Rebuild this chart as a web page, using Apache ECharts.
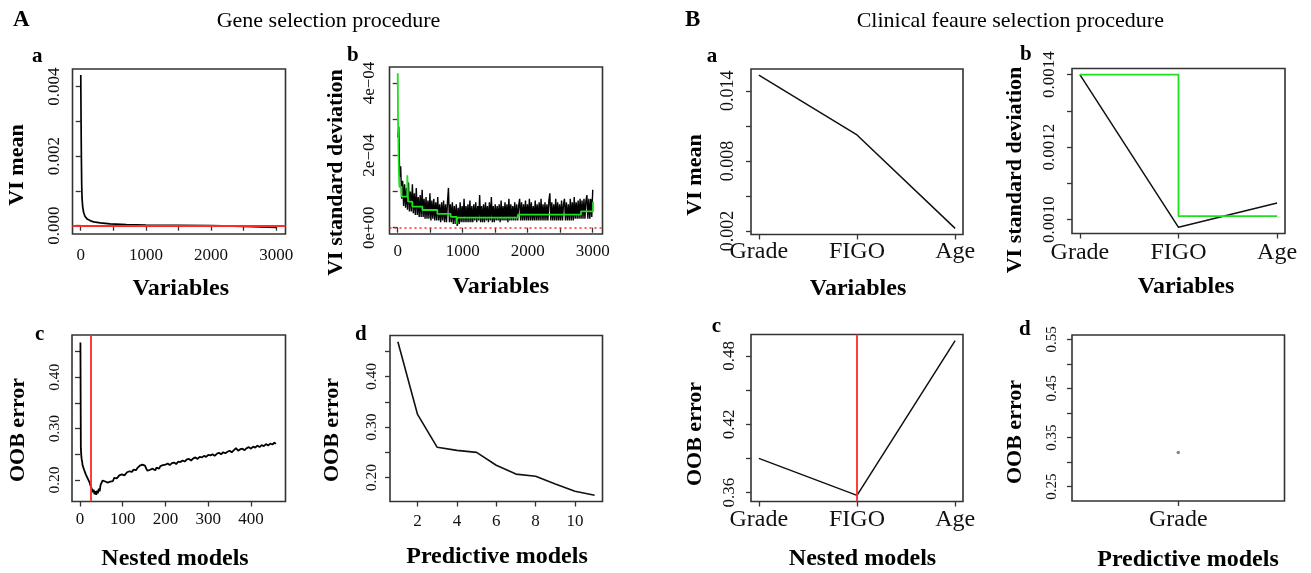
<!DOCTYPE html>
<html>
<head>
<meta charset="utf-8">
<script src="https://cdn.jsdelivr.net/npm/echarts@6/dist/echarts.min.js"></script>
<style>
html,body{margin:0;padding:0;background:#fff;}
#chart{width:1311px;height:573px;}
</style>
</head>
<body>
<div id="chart"></div>
<script>
// ---------------- DATA ----------------
// A-a : VI mean of genes (ranked variables)
const geneVar_a = [1, 3, 6, 10, 15, 20, 30, 45, 65, 100, 150, 200, 300, 450, 700, 1000, 1500, 2000, 2500, 3000];
const geneVIMean = [0.00434, 0.0037, 0.0029, 0.0020, 0.0012, 0.0008, 0.00055, 0.00038, 0.00027, 0.00019, 0.00014, 0.00011, 0.00008, 0.00005, 0.00003, 0.00002, 0.00001, 0, -0.00002, -0.00005];
const geneVIMeanThreshold = 0;

// A-b : VI standard deviation, sampled every 15th ranked variable (values in units of 1e-5)
const geneSdStart = 1, geneSdStep = 15;
const geneVISd_e5 = [
 25, 28, 14, 17, 8, 13, 6, 12, 5.5, 11,
 5, 12.5, 4.5, 10, 4.5, 12, 4, 9.5, 3.5, 11,
 3.5, 8.5, 3, 9, 3, 10.5, 3, 8, 2.5, 8.5,
 2.5, 7.5, 2.5, 9.5, 2, 7.5, 2.5, 8, 2, 7,
 2, 8.5, 2, 6.5, 1.5, 7, 2, 7.5, 1.5, 6.5,
 1.5, 7, 11, 1.5, 6.5, 1.5, 7, 1, 6, 1,
 6.5, 0.5, 5.5, 1, 7, 1.5, 6, 1.5, 8, 1.5,
 6, 1.5, 6.5, 1.5, 7.5, 1.5, 6, 1.5, 6.5, 2,
 7, 1.5, 6, 2, 9, 1.5, 6, 1.5, 6.5, 1.5,
 7, 2, 6, 1.5, 7, 2, 8.5, 1.5, 6, 1.5,
 6.5, 2, 6, 2, 6.5, 1.5, 7.5, 2, 6, 2,
 7, 2, 6.5, 1.5, 8, 2, 6.5, 2, 6, 2,
 7, 2, 6.5, 2, 6, 8, 2, 7, 2, 6.5,
 2, 7.5, 2, 6.5, 2, 8, 2, 7, 2, 6,
 2, 7.5, 2, 6.5, 2, 7, 2, 8, 2, 6.5,
 2, 7, 2, 6.5, 2, 7.5, 9.5, 2, 7, 2,
 6.5, 2, 8, 2, 7, 2, 6.5, 2, 7.5, 2,
 6.5, 8, 2, 7, 2, 6.5, 2, 8, 2, 7,
 2, 8.5, 2.5, 7, 2.5, 7.5, 2.5, 8, 2.5, 7.5,
 2.5, 8, 2.5, 7.5, 9, 2.5, 8, 2.5, 8, 3,
 10.5
];
// green step (CART fit of sd), change points; values in 1e-5
const geneSdStepX = [1, 5, 10, 14, 19, 26, 60, 148, 160, 225, 380, 610, 815, 905, 915, 1850, 2820, 3005];
const geneSdStepY_e5 = [42.7, 30, 24.3, 19.6, 15, 11.3, 8.6, 14.5, 7.2, 5.8, 4.9, 3.8, 3.0, 1.0, 2.8, 3.6, 4.5, 7.2];
const geneSdThreshold = 0.9e-5;

// A-c : OOB error of nested models
const nestedModelsA = [1,2,3,4,5,6,7,8,9,10,12,14,16,18,20,22,24,26,28,30,32,34,36,38,40,42,44,46,48,
 50,53,56,59,62,65,68,71,74,77,80,83,86,89,92,95,98,101,104,107,110,113,116,119,122,125,128,131,134,137,140,
 143,146,149,152,155,158,161,164,167,170,173,176,179,182,185,188,191,194,197,200,
 205,210,215,220,225,230,235,240,245,250,255,260,265,270,275,280,285,290,295,300,
 305,310,315,320,325,330,335,340,345,350,355,360,365,370,375,380,385,390,395,400,
 405,410,415,420,425,430,435,440,445,450,455,458];
const oobNestedA = [0.468,0.262,0.248,0.240,0.236,0.229,0.231,0.224,0.222,0.219,0.221,0.210,0.207,0.203,0.200,0.196,0.191,0.186,0.182,0.176,
 0.181,0.172,0.178,0.171,0.179,0.174,0.183,0.178,0.190,
 0.194,0.199,0.196,0.197,0.199,0.195,0.192,0.197,0.200,0.198,0.204,0.206,0.203,0.205,0.209,0.208,0.211,0.212,0.209,0.212,0.215,
 0.213,0.217,0.218,0.216,0.220,0.222,0.219,0.223,0.225,0.228,0.226,0.230,0.229,0.228,0.222,0.218,0.216,0.220,0.218,0.222,
 0.221,0.219,0.224,0.225,0.222,0.227,0.226,0.229,0.228,0.230,
 0.232,0.229,0.233,0.234,0.231,0.236,0.235,0.238,0.236,0.240,0.241,0.238,0.242,0.244,0.241,0.245,0.244,0.247,0.245,0.249,
 0.248,0.250,0.247,0.251,0.253,0.250,0.254,0.252,0.255,0.257,0.254,0.258,0.262,0.257,0.260,0.261,0.258,0.262,0.264,0.261,
 0.265,0.263,0.267,0.264,0.268,0.266,0.270,0.267,0.271,0.269,0.273,0.270];
const nestedSelectedA = 25;

// A-d : OOB error of predictive models
const predictiveModelsA = [1,2,3,4,5,6,7,8,9,10,11];
const oobPredictiveA = [0.469,0.325,0.260,0.254,0.250,0.2245,0.207,0.2026,0.1875,0.173,0.165];

// B : clinical features
const clinicalVars = ['Grade','FIGO','Age'];
const clinicalVIMean = [0.01534, 0.01022, 0.00223];
const clinicalVISd = [0.0014, 0.000979, 0.001046];
const clinicalSdStep = [0.0014, 0.00101, 0.00101];
const clinicalSdThreshold = 0.00101;
const clinicalOobNested = [0.3901, 0.3577, 0.4933];
const clinicalNestedSelected = 2;
const clinicalPredVars = ['Grade'];
const clinicalOobPredictive = [0.3195];

// tick marks / labels
const geneVarTicks = [0,500,1000,1500,2000,2500,3000];
const geneVarLabels = [0,1000,2000,3000];
const aaYTicks = [0,0.001,0.002,0.003,0.004];
const aaYLabels = [0,0.002,0.004];
const abYTicks = [0,0.0001,0.0002,0.0003,0.0004];
const abYLabels = [0,0.0002,0.0004];
const acXTicks = [0,100,200,300,400];
const oobYTicksA = [0.20,0.25,0.30,0.35,0.40,0.45];
const oobYLabelsA = [0.20,0.30,0.40];
const adXTicks = [2,4,6,8,10];
const clinXTicks = [1,2,3];
const baYTicks = [0.002,0.005,0.008,0.011,0.014];
const baYLabels = [0.002,0.008,0.014];
const bbYTicks = [0.0010,0.0011,0.0012,0.0013,0.0014];
const bbYLabels = [0.0010,0.0012,0.0014];
const bcYTicks = [0.36,0.39,0.42,0.45,0.48];
const bcYLabels = [0.36,0.42,0.48];
const bdYTicks = [0.25,0.30,0.35,0.40,0.45,0.50,0.55];
const bdYLabels = [0.25,0.35,0.45,0.55];

// ---------------- CHART ----------------
const FONT = '"Liberation Serif", "DejaVu Serif", serif';
const BOX = '#333';

const grids = [
  {left:72.5, top:69, width:213, height:165},    // A-a
  {left:389.5, top:67, width:213, height:167},   // A-b
  {left:72, top:335, width:213.5, height:166.5}, // A-c
  {left:390, top:335.5, width:212.5, height:166},// A-d
  {left:751, top:69, width:212, height:165.5},   // B-a
  {left:1072, top:68.5, width:213, height:165},  // B-b
  {left:751, top:334.5, width:212, height:167},  // B-c
  {left:1072, top:335, width:212.5, height:166}  // B-d
].map(g => Object.assign({show:true, borderColor:BOX, borderWidth:1.6, backgroundColor:'transparent', containLabel:false, outerBoundsMode:'none'}, g));

function ax(gi, min, max, ticks, labels, fmt, fontSize, margin, rotate) {
  return {
    type:'value', gridIndex:gi, min:min, max:max, scale:true,
    axisLine:{show:false}, splitLine:{show:false},
    axisTick:{show:true, inside:false, length:5, customValues:ticks, lineStyle:{color:BOX, width:1.3}},
    axisLabel:{show:true, customValues:labels, formatter:fmt, fontFamily:FONT, fontSize:fontSize, color:'#111', margin:margin, rotate:rotate||0, hideOverlap:false}
  };
}
const f0 = v => String(Math.round(v));
const fix = n => (v => Number(v).toFixed(n));
const sciFmt = v => { if (Math.abs(v) < 1e-12) return '0e+00'; const e = Math.floor(Math.log10(Math.abs(v)) + 1e-9); const m = Math.round(v / Math.pow(10, e)); return m + 'e\u2212' + String(-e).padStart(2,'0'); };
const clinFmt = v => clinicalVars[Math.round(v) - 1] || '';
const clinPredFmt = v => clinicalPredVars[Math.round(v) - 1] || '';

const xAxes = [
  ax(0, -126, 3141, geneVarTicks, geneVarLabels, f0, 17, 13.5),
  ax(1, -126, 3151, geneVarTicks, geneVarLabels, f0, 17, 9.5),
  ax(2, -18.7, 480.7, acXTicks, acXTicks, f0, 17, 10),
  ax(3, 0.6, 11.4, adXTicks, adXTicks, f0, 17, 11.5),
  ax(4, 0.92, 3.08, clinXTicks, clinXTicks, clinFmt, 24, 5.5),
  ax(5, 0.92, 3.08, clinXTicks, clinXTicks, clinFmt, 24, 7.5),
  ax(6, 0.92, 3.08, clinXTicks, clinXTicks, clinFmt, 24, 6.5),
  ax(7, 0.6, 1.4, [1], [1], clinPredFmt, 24, 7)
];
const yAxes = [
  ax(0, -0.000239, 0.00451, aaYTicks, aaYLabels, fix(3), 17, 9.5, 90),
  ax(1, -1.74e-5, 4.442e-4, abYTicks, abYLabels, sciFmt, 17, 11, 90),
  ax(2, 0.1581, 0.4824, oobYTicksA, oobYLabelsA, fix(2), 15.5, 9.5, 90),
  ax(3, 0.1528, 0.4812, oobYTicksA, oobYLabelsA, fix(2), 15.5, 10.5, 90),
  ax(4, 0.00171, 0.01586, baYTicks, baYLabels, fix(3), 18, 13.5, 90),
  ax(5, 0.000962, 0.001417, bbYTicks, bbYLabels, fix(4), 17, 13.5, 90),
  ax(6, 0.3523, 0.4987, bcYTicks, bcYLabels, fix(2), 17, 12.5, 90),
  ax(7, 0.2209, 0.5588, bdYTicks, bdYLabels, fix(2), 15, 12.8, 90)
];

function line(gi, data, color, width, extra) {
  return Object.assign({type:'line', xAxisIndex:gi, yAxisIndex:gi, data:data, showSymbol:false, symbol:'none',
    lineStyle:{color:color, width:width}, silent:true, animation:false, clip:true, z:3}, extra||{});
}
function hMark(val, color, width, type) {
  return {silent:true, symbol:['none','none'], label:{show:false}, animation:false,
    lineStyle:{color:color, width:width, type:type}, data:[{yAxis:val}]};
}
function vMark(val, color, width) {
  return {silent:true, symbol:['none','none'], label:{show:false}, animation:false,
    lineStyle:{color:color, width:width, type:'solid'}, data:[{xAxis:val}]};
}
const RED = '#ff2a2a', GREEN = '#1fe01f';

const series = [
  // A-a
  line(0, geneVar_a.map((v,i)=>[v, geneVIMean[i]]), '#000', 1.7, {markLine:hMark(geneVIMeanThreshold, RED, 1.8, 'solid')}),
  // A-b
  line(1, geneVISd_e5.map((v,i)=>[geneSdStart + i*geneSdStep, v*1e-5]), '#000', 1.4, {markLine:hMark(geneSdThreshold, RED, 1.6, [2,3])}),
  line(1, geneSdStepX.map((v,i)=>[v, geneSdStepY_e5[i]*1e-5]), GREEN, 1.8, {step:'end', z:4}),
  // A-c
  line(2, nestedModelsA.map((v,i)=>[v, oobNestedA[i]]), '#000', 1.8, {markLine:vMark(nestedSelectedA, RED, 1.8)}),
  // A-d
  line(3, predictiveModelsA.map((v,i)=>[v, oobPredictiveA[i]]), '#111', 1.6),
  // B-a
  line(4, clinicalVars.map((c,i)=>[i+1, clinicalVIMean[i]]), '#111', 1.5),
  // B-b
  line(5, clinicalVars.map((c,i)=>[i+1, clinicalVISd[i]]), '#111', 1.5, {markLine:hMark(clinicalSdThreshold, RED, 1.5, [2,3])}),
  line(5, clinicalVars.map((c,i)=>[i+1, clinicalSdStep[i]]), GREEN, 1.8, {step:'end', z:4}),
  // B-c
  line(6, clinicalVars.map((c,i)=>[i+1, clinicalOobNested[i]]), '#111', 1.5, {markLine:vMark(clinicalNestedSelected, RED, 1.8)}),
  // B-d
  {type:'scatter', xAxisIndex:7, yAxisIndex:7, data:clinicalPredVars.map((c,i)=>[i+1, clinicalOobPredictive[i]]),
   symbol:'circle', symbolSize:3.5, itemStyle:{color:'#666'}, silent:true, animation:false}
];

function txt(t, x, y, size, bold, align, rot) {
  return {type:'text', x:x, y:y, rotation:rot||0, silent:true, z:10,
    style:{text:t, fill:'#000', font:(bold?'bold ':'') + size + 'px ' + FONT, textAlign:align||'center', textVerticalAlign:'middle'}};
}
const V = Math.PI/2;
const graphic = [
  txt('A', 13, 20.5, 23, true, 'left'),
  txt('Gene selection procedure', 216.7, 21.2, 22, false, 'left'),
  txt('B', 685, 20.5, 23, true, 'left'),
  txt('Clinical feaure selection procedure', 856.7, 21.2, 22, false, 'left'),
  // panel letters
  txt('a', 32, 56.2, 21, true, 'left'),
  txt('b', 347, 55.5, 21, true, 'left'),
  txt('c', 35, 334.6, 21, true, 'left'),
  txt('d', 355, 334.6, 21, true, 'left'),
  txt('a', 706.7, 56.2, 21, true, 'left'),
  txt('b', 1020, 54.6, 21, true, 'left'),
  txt('c', 711.7, 326.2, 21, true, 'left'),
  txt('d', 1019, 329.6, 21, true, 'left'),
  // x-axis titles
  txt('Variables', 180.8, 288.6, 24, true),
  txt('Variables', 500.8, 287, 24, true),
  txt('Nested models', 175, 558.6, 24, true),
  txt('Predictive models', 497, 557, 24, true),
  txt('Variables', 858, 288.6, 24, true),
  txt('Variables', 1186, 287, 24, true),
  txt('Nested models', 862.5, 558.6, 24, true),
  txt('Predictive models', 1188, 560, 24, true),
  // y-axis titles
  txt('VI mean', 17, 165, 22, true, 'center', V),
  txt('VI standard deviation', 336, 172.5, 22, true, 'center', V),
  txt('OOB error', 18.5, 430, 22, true, 'center', V),
  txt('OOB error', 332.5, 430, 22, true, 'center', V),
  txt('VI mean', 695, 175, 22, true, 'center', V),
  txt('VI standard deviation', 1015, 170, 22, true, 'center', V),
  txt('OOB error', 695, 434, 22, true, 'center', V),
  txt('OOB error', 1015, 432, 22, true, 'center', V)
];

const chart = echarts.init(document.getElementById('chart'), null, {renderer:'canvas'});
chart.setOption({
  animation:false,
  backgroundColor:'#fff',
  grid:grids, xAxis:xAxes, yAxis:yAxes, series:series, graphic:graphic
});
</script>
</body>
</html>
